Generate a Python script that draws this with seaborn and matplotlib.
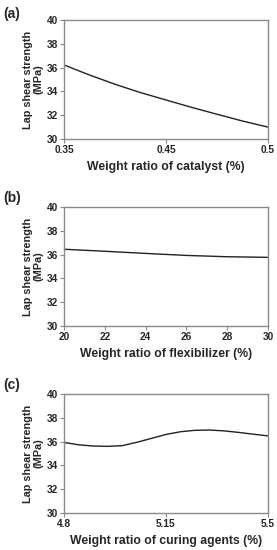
import numpy as np
import seaborn as sns
import matplotlib.pyplot as plt

# panel (a): catalyst, x in coded levels (-1, 0, 1)
catalyst_coded = [-1, -0.75, -0.5, -0.25, 0, 0.25, 0.5, 0.75, 1]
catalyst_strength = [36.22, 35.38, 34.6, 33.9, 33.28, 32.66, 32.08, 31.51, 31.0]
catalyst_ticks = [-1, 0, 1]
catalyst_labels = ['0.35', '0.45', '0.5']

# panel (b): flexibilizer
flex_ratio = [20, 22, 24, 26, 28, 30]
flex_strength = [36.45, 36.28, 36.1, 35.93, 35.82, 35.77]

# panel (c): curing agents
curing_ratio = [4.8, 4.85, 4.9, 4.95, 5.0, 5.05, 5.1, 5.15, 5.2, 5.25, 5.3, 5.35, 5.4, 5.45, 5.5]
curing_strength = [35.93, 35.73, 35.63, 35.60, 35.66, 35.94, 36.27, 36.60, 36.83, 36.95,
                   36.97, 36.90, 36.77, 36.62, 36.48]
curing_ticks = [4.8, 5.15, 5.5]
curing_labels = ['4.8', '5.15', '5.5']

sns.set_style('white')
plt.rcParams['font.family'] = ['Liberation Sans', 'DejaVu Sans']
plt.rcParams['font.weight'] = 'bold'

fig = plt.figure(figsize=(2.77, 5.5), dpi=100)

W, H = 277, 550
left, width, height = 64 / W, 204 / W, 119 / H
bottoms = [1 - 139 / H, 1 - 326 / H, 1 - 513 / H]
tops_txt = [14, 198, 385]
panels = [
    ('(a)', catalyst_coded, catalyst_strength, 'Weight ratio of catalyst (%)'),
    ('(b)', flex_ratio, flex_strength, 'Weight ratio of flexibilizer (%)'),
    ('(c)', curing_ratio, curing_strength, 'Weight ratio of curing agents (%)'),
]

for i, (tag, x, y, xlab) in enumerate(panels):
    ax = fig.add_axes([left, bottoms[i], width, height])
    sns.lineplot(x=x, y=y, ax=ax, color='#222222', linewidth=1.0)
    ax.set_ylim(30, 40)
    ax.set_yticks([30, 32, 34, 36, 38, 40])
    ax.set_xlim(x[0], x[-1])
    if i == 0:
        ax.set_xticks(catalyst_ticks)
        ax.set_xticklabels(catalyst_labels)
    elif i == 1:
        ax.set_xticks([20, 22, 24, 26, 28, 30])
    else:
        ax.set_xticks(curing_ticks)
        ax.set_xticklabels(curing_labels)
    for s in ax.spines.values():
        s.set_color('#8a8a8a')
        s.set_linewidth(1.0)
    ax.tick_params(axis='both', direction='out', length=3, width=0.8, color='#8a8a8a',
                   labelsize=7.3, pad=1.5, left=True, bottom=True)
    for lab in ax.get_xticklabels() + ax.get_yticklabels():
        lab.set_fontweight('bold')
    ax.set_xlabel(xlab, fontsize=8.8, fontweight='bold', labelpad=4)
    ax.set_ylabel('Lap shear strength\n(MPa)', fontsize=7.8, fontweight='bold', labelpad=2,
                  linespacing=1.05)
    fig.text(3 / W, 1 - tops_txt[i] / H, tag, fontsize=10, fontweight='bold', va='center', ha='left')

fig.savefig('out.png', dpi=100)
